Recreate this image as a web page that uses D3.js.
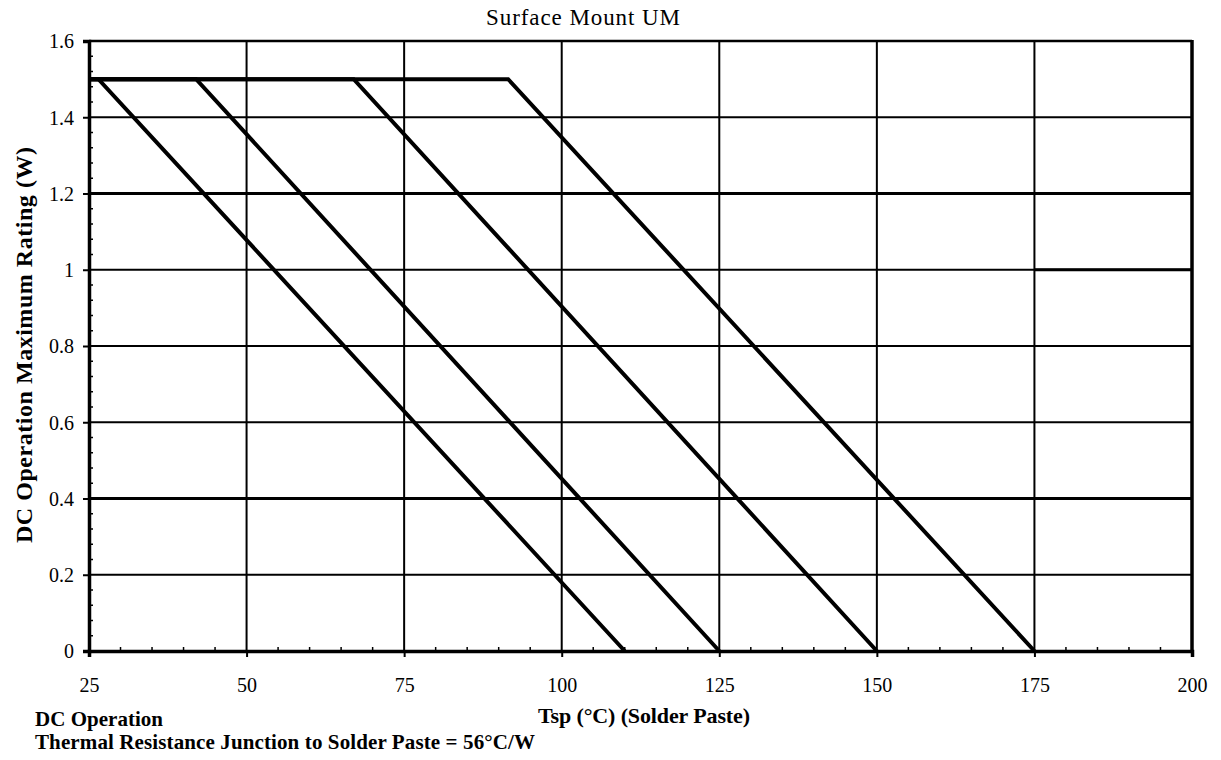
<!DOCTYPE html>
<html>
<head>
<meta charset="utf-8">
<script src="https://cdn.jsdelivr.net/npm/d3@7"></script>
<style>
  html, body { margin: 0; padding: 0; background: #fff; }
  svg { display: block; }
</style>
</head>
<body>
<svg id="chart" width="1221" height="760"></svg>
<script>
// ---- data ----
const title = "Surface Mount UM";
const xTicks = [25, 50, 75, 100, 125, 150, 175, 200];
const yTicks = [0, 0.2, 0.4, 0.6, 0.8, 1, 1.2, 1.4, 1.6];
const yTickLabels = ["0", "0.2", "0.4", "0.6", "0.8", "1", "1.2", "1.4", "1.6"];
// derating curves: [Tsp, W] points
const curveA = [[25, 1.5], [26.5, 1.5], [110, 0]];
const curveB = [[25, 1.5], [42, 1.5], [125, 0]];
const curveC = [[25, 1.5], [67, 1.5], [150, 0]];
const curveD = [[25, 1.5], [91.5, 1.5], [175, 0]];
const curves = [curveA, curveB, curveC, curveD];
const thickGridY = [0.4, 1.2];
const xLabel = "Tsp (°C) (Solder Paste)";
const yLabel = "DC Operation Maximum Rating (W)";
const note1 = "DC Operation";
const note2 = "Thermal Resistance Junction to Solder Paste = 56°C/W";

// ---- layout ----
const FONT = '"Liberation Serif", "DejaVu Serif", serif';
const svg = d3.select("#chart");
const m = { left: 89, right: 1192, top: 41, bottom: 651 };
const x = d3.scaleLinear().domain([25, 200]).range([m.left, m.right]);
const y = d3.scaleLinear().domain([0, 1.6]).range([m.bottom, m.top]);

const g = svg.append("g");

// horizontal gridlines
g.append("g").selectAll("line").data(yTicks.filter(v => v > 0 && v < 1.6)).join("line")
  .attr("x1", x(25)).attr("x2", x(200))
  .attr("y1", d => y(d)).attr("y2", d => y(d))
  .attr("stroke", "#000")
  .attr("stroke-width", d => thickGridY.includes(d) ? 3.2 : 2);
// scan artefact: heavier segment at 1.0 between 175 and 200
g.append("line").attr("x1", x(175)).attr("x2", x(200)).attr("y1", y(1)).attr("y2", y(1))
  .attr("stroke", "#000").attr("stroke-width", 3);

// vertical gridlines
g.append("g").selectAll("line").data(xTicks.filter(v => v > 25 && v < 200)).join("line")
  .attr("x1", d => x(d)).attr("x2", d => x(d))
  .attr("y1", y(1.6)).attr("y2", y(0))
  .attr("stroke", "#000").attr("stroke-width", 2);

// y minor ticks (inside)
const yMinor = d3.range(0, 1.6001, 0.04).filter(v => Math.abs(Math.round(v / 0.2) * 0.2 - v) > 1e-6);
g.append("g").selectAll("line").data(yMinor).join("line")
  .attr("x1", x(25)).attr("x2", x(25) + 4)
  .attr("y1", d => y(d)).attr("y2", d => y(d))
  .attr("stroke", "#000").attr("stroke-width", 1.5);

// x minor ticks (inside)
const xMinor = d3.range(25, 200.01, 5).filter(v => (v - 25) % 25 !== 0);
g.append("g").selectAll("line").data(xMinor).join("line")
  .attr("x1", d => x(d)).attr("x2", d => x(d))
  .attr("y1", y(0)).attr("y2", y(0) - 4)
  .attr("stroke", "#000").attr("stroke-width", 1.5);

// axes
const yAxis = d3.axisLeft(y).tickValues(yTicks)
  .tickFormat((d, i) => yTickLabels[i]).tickSize(6).tickPadding(9);
const yAx = svg.append("g").attr("transform", `translate(${m.left},0)`).call(yAxis);
yAx.attr("font-family", null).attr("font-size", null);
yAx.select(".domain").attr("stroke", "#000").attr("stroke-width", 3.5);
yAx.selectAll(".tick line").attr("stroke", "#000").attr("stroke-width", 2);
yAx.selectAll(".tick text").style("font-family", FONT).style("font-size", "20px").attr("fill", "#000")
  .attr("dy", "0.34em");

const xAxis = d3.axisBottom(x).tickValues(xTicks).tickSize(6).tickPadding(35);
const xAx = svg.append("g").attr("transform", `translate(0,${m.bottom})`).call(xAxis);
xAx.attr("font-family", null).attr("font-size", null);
xAx.select(".domain").attr("stroke", "#000").attr("stroke-width", 3.5);
xAx.selectAll(".tick line").attr("stroke", "#000").attr("stroke-width", 2);
xAx.selectAll(".tick text").style("font-family", FONT).style("font-size", "20px").attr("fill", "#000")
  .attr("dy", "0");

// right border and top border
svg.append("line").attr("x1", x(200)).attr("x2", x(200)).attr("y1", y(1.6) - 1).attr("y2", y(0))
  .attr("stroke", "#000").attr("stroke-width", 3.5);
svg.append("line").attr("x1", x(25)).attr("x2", x(200)).attr("y1", y(1.6)).attr("y2", y(1.6))
  .attr("stroke", "#000").attr("stroke-width", 2.5);

// curves
const line = d3.line().x(d => x(d[0])).y(d => y(d[1]));
svg.append("g").selectAll("path").data(curves).join("path")
  .attr("d", line).attr("fill", "none")
  .attr("stroke", "#000").attr("stroke-width", 4)
  .attr("stroke-linejoin", "miter");

// texts
function txt(t, xx, yy, size, weight, anchor, len) {
  const el = svg.append("text").attr("x", xx).attr("y", yy)
    .attr("text-anchor", anchor).style("font-family", FONT).style("font-size", size + "px")
    .style("font-weight", weight).attr("fill", "#000").text(t);
  if (len) el.attr("textLength", len).attr("lengthAdjust", "spacing");
  return el;
}
txt(title, 583, 25, 23, "normal", "middle", 194);
txt(xLabel, 644, 723, 22, "bold", "middle", 212);
txt(note1, 35, 726, 21, "bold", "start", 128);
txt(note2, 35, 749, 21, "bold", "start", 500);
svg.append("text").attr("transform", `translate(32,345) rotate(-90)`)
  .attr("text-anchor", "middle").style("font-family", FONT).style("font-size", "24px")
  .style("font-weight", "bold").attr("fill", "#000")
  .attr("textLength", 396).attr("lengthAdjust", "spacing").text(yLabel);
</script>
</body>
</html>
